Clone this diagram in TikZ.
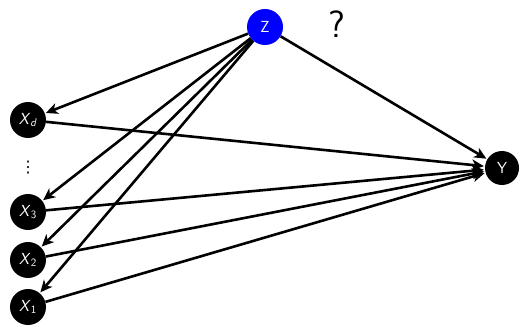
\documentclass[tikz,border=0pt]{standalone}
\usepackage{fontspec}
\newfontfamily\dejavu{DejaVu Sans}
\usetikzlibrary{arrows.meta}
\begin{document}
\begin{tikzpicture}[x=1pt,y=-1pt,
  var/.style={circle,fill=black,text=white,minimum size=36pt,inner sep=0pt,font=\sffamily\fontsize{16}{16}\selectfont},
  arr/.style={-{Stealth[length=12pt,width=11pt,inset=3.5pt]},line width=2.6pt,shorten >=1pt}]
\useasboundingbox (0,0) rectangle (522,331);
\node[var,fill=blue] (z) at (265,27) {Z};
\node[var,minimum size=34pt] (y) at (502,168) {Y};
\node[var] (xd) at (28,120) {\textit{X}\textsubscript{\textit{d}}};
\node[var] (x3) at (28,212) {\textit{X}\textsubscript{3}};
\node[var] (x2) at (28,260) {\textit{X}\textsubscript{2}};
\node[var] (x1) at (28,307) {\textit{X}\textsubscript{1}};
\node[font=\dejavu\fontsize{16}{16}\selectfont] (dots) at (28,168) {⋮};
\node[font=\sffamily\fontsize{38}{38}\selectfont] (q) at (337,24) {?};
\foreach \n in {xd,x3,x2,x1} {
  \draw[arr] (z) -- (\n);
  \draw[arr] (\n) -- (y);
}
\draw[arr] (z) -- (y);
\end{tikzpicture}
\end{document}
